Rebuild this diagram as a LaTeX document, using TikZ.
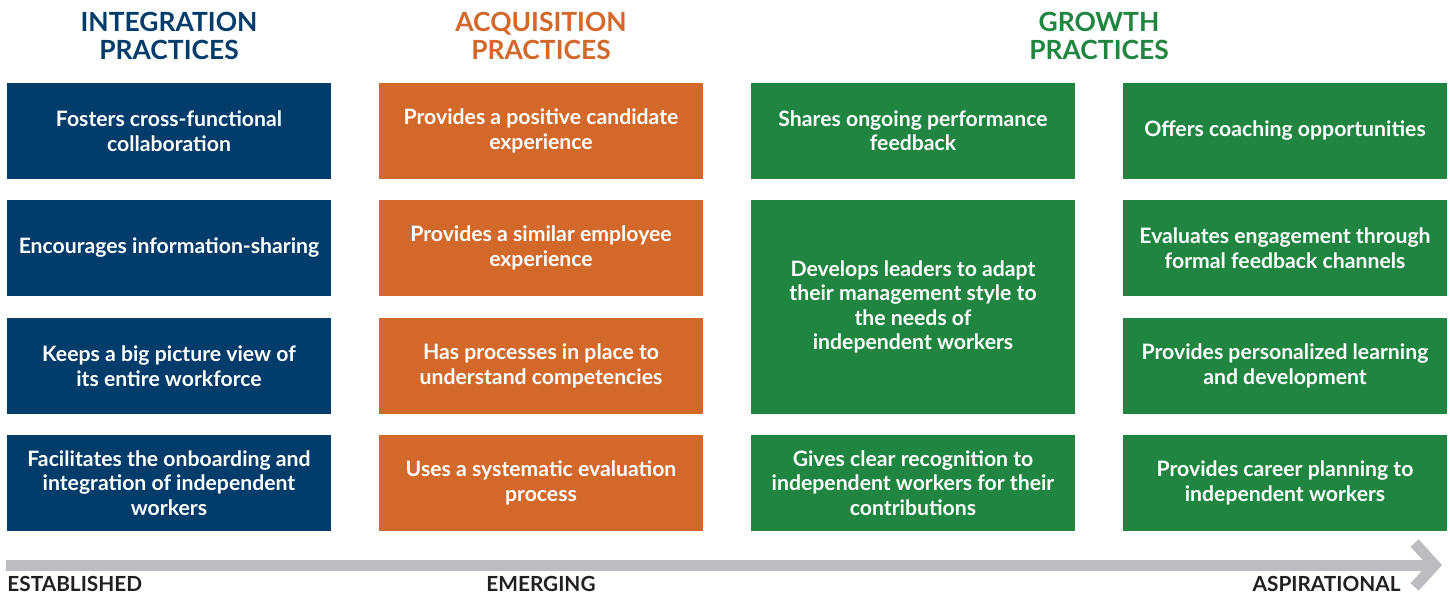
\documentclass[tikz,border=0pt]{standalone}
\usepackage{fontspec}
\setmainfont{Lato}
\usetikzlibrary{arrows.meta}
\definecolor{intblue}{RGB}{1,60,106}
\definecolor{acqorange}{RGB}{210,105,42}
\definecolor{growgreen}{RGB}{31,133,64}
\definecolor{bargrey}{RGB}{188,189,192}
\definecolor{labelgrey}{RGB}{35,31,32}

\begin{document}
\begin{tikzpicture}[x=0.5pt, y=-0.5pt,
    main/.style = {fill=#1, text=white, minimum width=162pt, minimum height=48pt, inner sep=0pt, align=center, font=\bfseries\fontsize{10.6}{12.2}\selectfont},
    head/.style = {text=#1, align=center, font=\bfseries\fontsize{13.2}{14}\selectfont},
    stage/.style = {text=labelgrey, inner sep=0pt, font=\bfseries\fontsize{10.4}{10}\selectfont}]
                \useasboundingbox (0,0) rectangle (1450,596);

                \node[head=intblue] at (169, 36) (inthead) {INTEGRATION\\PRACTICES};
                \node[head=acqorange] at (541, 36) (acqhead) {ACQUISITION\\PRACTICES};
                \node[head=growgreen] at (1099, 36) (growhead) {GROWTH\\PRACTICES};

                \node[main=intblue] at (169, 131) (I1) {Fosters cross-functional\\collaboration};
                \node[main=intblue] at (169, 248) (I2) {Encourages information-sharing};
                \node[main=intblue] at (169, 366) (I3) {Keeps a big picture view of\\its entire workforce};
                \node[main=intblue] at (169, 483) (I4) {Facilitates the onboarding and\\integration of independent\\workers};

                \node[main=acqorange] at (541, 131) (A1) {Provides a positive candidate\\experience};
                \node[main=acqorange] at (541, 248) (A2) {Provides a similar employee\\experience};
                \node[main=acqorange] at (541, 366) (A3) {Has processes in place to\\understand competencies};
                \node[main=acqorange] at (541, 483) (A4) {Uses a systematic evaluation\\process};

                \node[main=growgreen] at (913, 131) (G1) {Shares ongoing performance\\feedback};
                \node[main=growgreen, minimum height=107pt] at (913, 307) (G2) {Develops leaders to adapt\\their management style to\\the needs of\\independent workers};
                \node[main=growgreen] at (913, 483) (G3) {Gives clear recognition to\\independent workers for their\\contributions};

                \node[main=growgreen] at (1285, 131) (H1) {Offers coaching opportunities};
                \node[main=growgreen] at (1285, 248) (H2) {Evaluates engagement through\\formal feedback channels};
                \node[main=growgreen] at (1285, 366) (H3) {Provides personalized learning\\and development};
                \node[main=growgreen] at (1285, 483) (H4) {Provides career planning to\\independent workers};

                \coordinate (start) at (6, 565);
                \coordinate (end) at (1442, 565);
                \draw[bargrey, line width=5.5pt, -{Straight Barb[length=10pt, width=22pt, line join=miter]}] (start) -- (end);

                \node[stage, anchor=west] at (7, 584) (est) {ESTABLISHED};
                \node[stage] at (541, 584) (emg) {EMERGING};
                \node[stage, anchor=east] at (1401, 584) (asp) {ASPIRATIONAL};
            \end{tikzpicture}
\end{document}
